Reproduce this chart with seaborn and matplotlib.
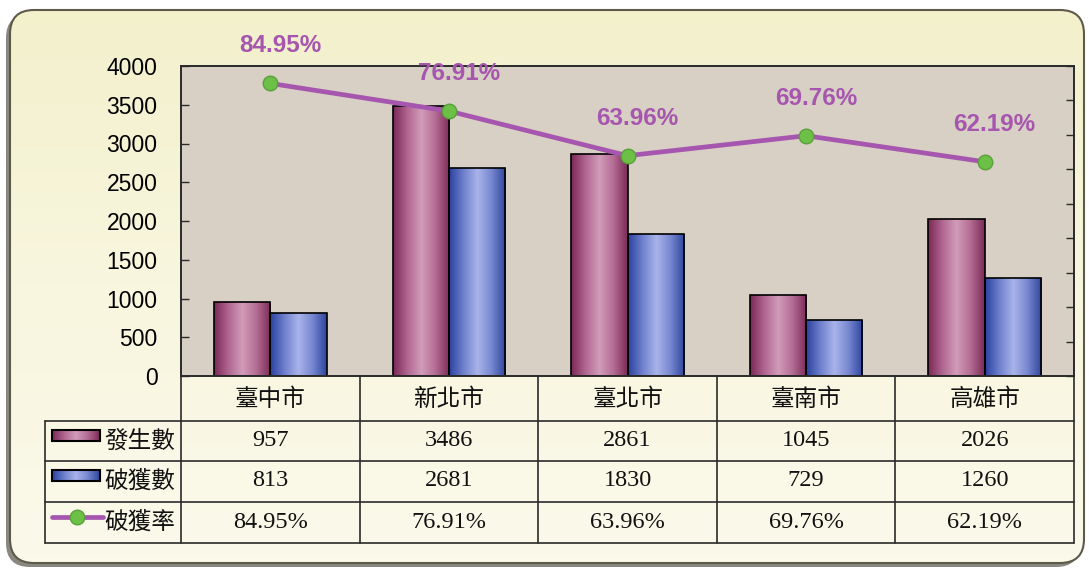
import numpy as np
import pandas as pd
import matplotlib
matplotlib.use("Agg")
import matplotlib.pyplot as plt
import seaborn as sns
from matplotlib.colors import LinearSegmentedColormap
from matplotlib.patches import FancyBboxPatch, Rectangle
from matplotlib.transforms import blended_transform_factory

# data
cities = ["臺中市", "新北市", "臺北市", "臺南市", "高雄市"]
occurred = [957, 3486, 2861, 1045, 2026]
solved = [813, 2681, 1830, 729, 1260]
rates = [84.95, 76.91, 63.96, 69.76, 62.19]
series = ["發生數", "破獲數", "破獲率"]

sns.set_theme(style="white")
plt.rcParams["font.family"] = ["Liberation Sans", "Noto Sans CJK TC", "DejaVu Sans"]

W, H = 1089, 571
fig = plt.figure(figsize=(W / 100, H / 100), dpi=100)
fig.patch.set_facecolor("white")


def px_axes(x0, y0, x1, y1):
    return fig.add_axes([x0 / W, 1 - y1 / H, (x1 - x0) / W, (y1 - y0) / H])


maroon_cm = LinearSegmentedColormap.from_list(
    "maroon", ["#7a2a56", "#b06690", "#d29cba", "#b46c94", "#7c2c58"])
blue_cm = LinearSegmentedColormap.from_list(
    "blue", ["#2c42a0", "#6e80cc", "#aab4ea", "#7888d0", "#30469e"])
frame_cm = LinearSegmentedColormap.from_list("frame", ["#f3f0cc", "#f8f6de", "#fbf9ea"])
purple = "#a656ae"
green = "#6cc046"
grad = np.linspace(0, 1, 64)[None, :]
cjk = ["Noto Sans CJK TC", "DejaVu Sans"]

# background frame
bg = fig.add_axes([0, 0, 1, 1])
bg.axis("off")
shadow = FancyBboxPatch((6, 14), 1074, 553, boxstyle="round,pad=0,rounding_size=24",
                        fc="#3a382c", ec="none", alpha=0.6)
bg.add_patch(shadow)
frame = FancyBboxPatch((10, 10), 1074, 553, boxstyle="round,pad=0,rounding_size=24",
                       fc="none", ec="#5e5a4a", lw=1.5, zorder=3)
bg.add_patch(frame)
im = bg.imshow(np.linspace(0, 1, 64)[:, None], extent=(10, 1084, 563, 10),
               cmap=frame_cm, aspect="auto", zorder=2)
im.set_clip_path(frame)
bg.set_xlim(0, W)
bg.set_ylim(H, 0)

# main chart
ax = px_axes(181, 66, 1074, 376)
ax.set_facecolor("#d8d0c4")
df = pd.DataFrame({
    "city": cities * 2,
    "series": [series[0]] * len(cities) + [series[1]] * len(cities),
    "value": occurred + solved,
})
sns.barplot(data=df, x="city", y="value", hue="series", palette=["#a0507a", "#5060b8"],
            width=0.63, gap=0, saturation=1, edgecolor="black", linewidth=1.2,
            legend=False, ax=ax)

for cont, cm in zip(ax.containers, [maroon_cm, blue_cm]):
    for bar in cont:
        x, y = bar.get_x(), bar.get_y()
        w, h = bar.get_width(), bar.get_height()
        g = ax.imshow(grad, extent=(x, x + w, y, y + h), cmap=cm, aspect="auto",
                      origin="lower", zorder=1.5)
        g.set_clip_path(bar)
        bar.set_facecolor("none")
        bar.set_zorder(2)

ax.set_xlim(-0.5, 4.5)
ax.set_ylim(0, 4000)
ax.set_yticks(range(0, 4001, 500))
ax.set_xticks([])
ax.set_xlabel("")
ax.set_ylabel("")
ax.tick_params(axis="y", direction="in", length=6, width=1, color="#2a2a2a",
               labelsize=16.5, pad=17, labelcolor="black")
for s in ax.spines.values():
    s.set_color("#2a2a2a")
    s.set_linewidth(1.2)

ax2 = ax.twinx()
sns.lineplot(x=np.arange(len(cities)), y=rates, ax=ax2, color=purple, lw=3.4,
             marker="o", markersize=10.5, markerfacecolor=green,
             markeredgecolor="#5aa03c", markeredgewidth=1)
ax2.set_ylim(0, 90)
ax2.set_yticks(range(0, 91, 10))
ax2.set_yticklabels([])
ax2.set_ylabel("")
ax2.tick_params(axis="y", direction="in", length=6, width=1, color="#2a2a2a")
for s in ax2.spines.values():
    s.set_color("#2a2a2a")
    s.set_linewidth(1.2)
for i, r in enumerate(rates):
    ax2.annotate(f"{r:.2f}%", (i, r), xytext=(7, 27), textcoords="offset points",
                 ha="center", va="center", fontsize=17.5, fontweight="bold", color=purple)
ax.set_xlim(-0.5, 4.5)

# data table
tab = px_axes(45, 376, 1074, 543)
tab.axis("off")
bt = blended_transform_factory(ax.transData, tab.transData)
line_kw = dict(color="#2a2a2a", lw=1.2, clip_on=False)

for k in range(len(cities) + 1):
    tab.plot([k - 0.5, k - 0.5], [376, 543], transform=bt, **line_kw)
for yy in [421, 461, 502, 543]:
    tab.plot([45, 1074], [yy, yy], **line_kw)
tab.plot([45, 45], [421, 543], **line_kw)

for i, c in enumerate(cities):
    tab.text(i, 399, c, transform=bt, ha="center", va="center", fontsize=17,
             family=cjk, color="#111111")

row_y = [441, 481, 522]
row_vals = [
    [str(v) for v in occurred],
    [str(v) for v in solved],
    [f"{v:.2f}%" for v in rates],
]
for yy, name, vals in zip(row_y, series, row_vals):
    tab.text(104, yy, name, ha="left", va="center", fontsize=17,
             family=cjk, color="#111111")
    for i, v in enumerate(vals):
        tab.text(i, yy, v, transform=bt, ha="center", va="center", fontsize=17.5,
                 family="Liberation Serif", color="#111111")

for yy, cm in zip(row_y[:2], [maroon_cm, blue_cm]):
    key = Rectangle((52, yy - 11), 48, 11, fc="none", ec="black", lw=1.5, zorder=3)
    tab.add_patch(key)
    g = tab.imshow(grad, extent=(52, 100, yy, yy - 11), cmap=cm, aspect="auto", zorder=2)
    g.set_clip_path(key)
tab.plot([52, 103], [row_y[2] - 5, row_y[2] - 5], color=purple, lw=3.4)
tab.plot([77], [row_y[2] - 5], marker="o", markersize=10.5, color=purple,
         markerfacecolor=green, markeredgecolor="#5aa03c")
tab.set_xlim(45, 1074)
tab.set_ylim(543, 376)

fig.savefig("out.png", dpi=100, facecolor=fig.get_facecolor())
